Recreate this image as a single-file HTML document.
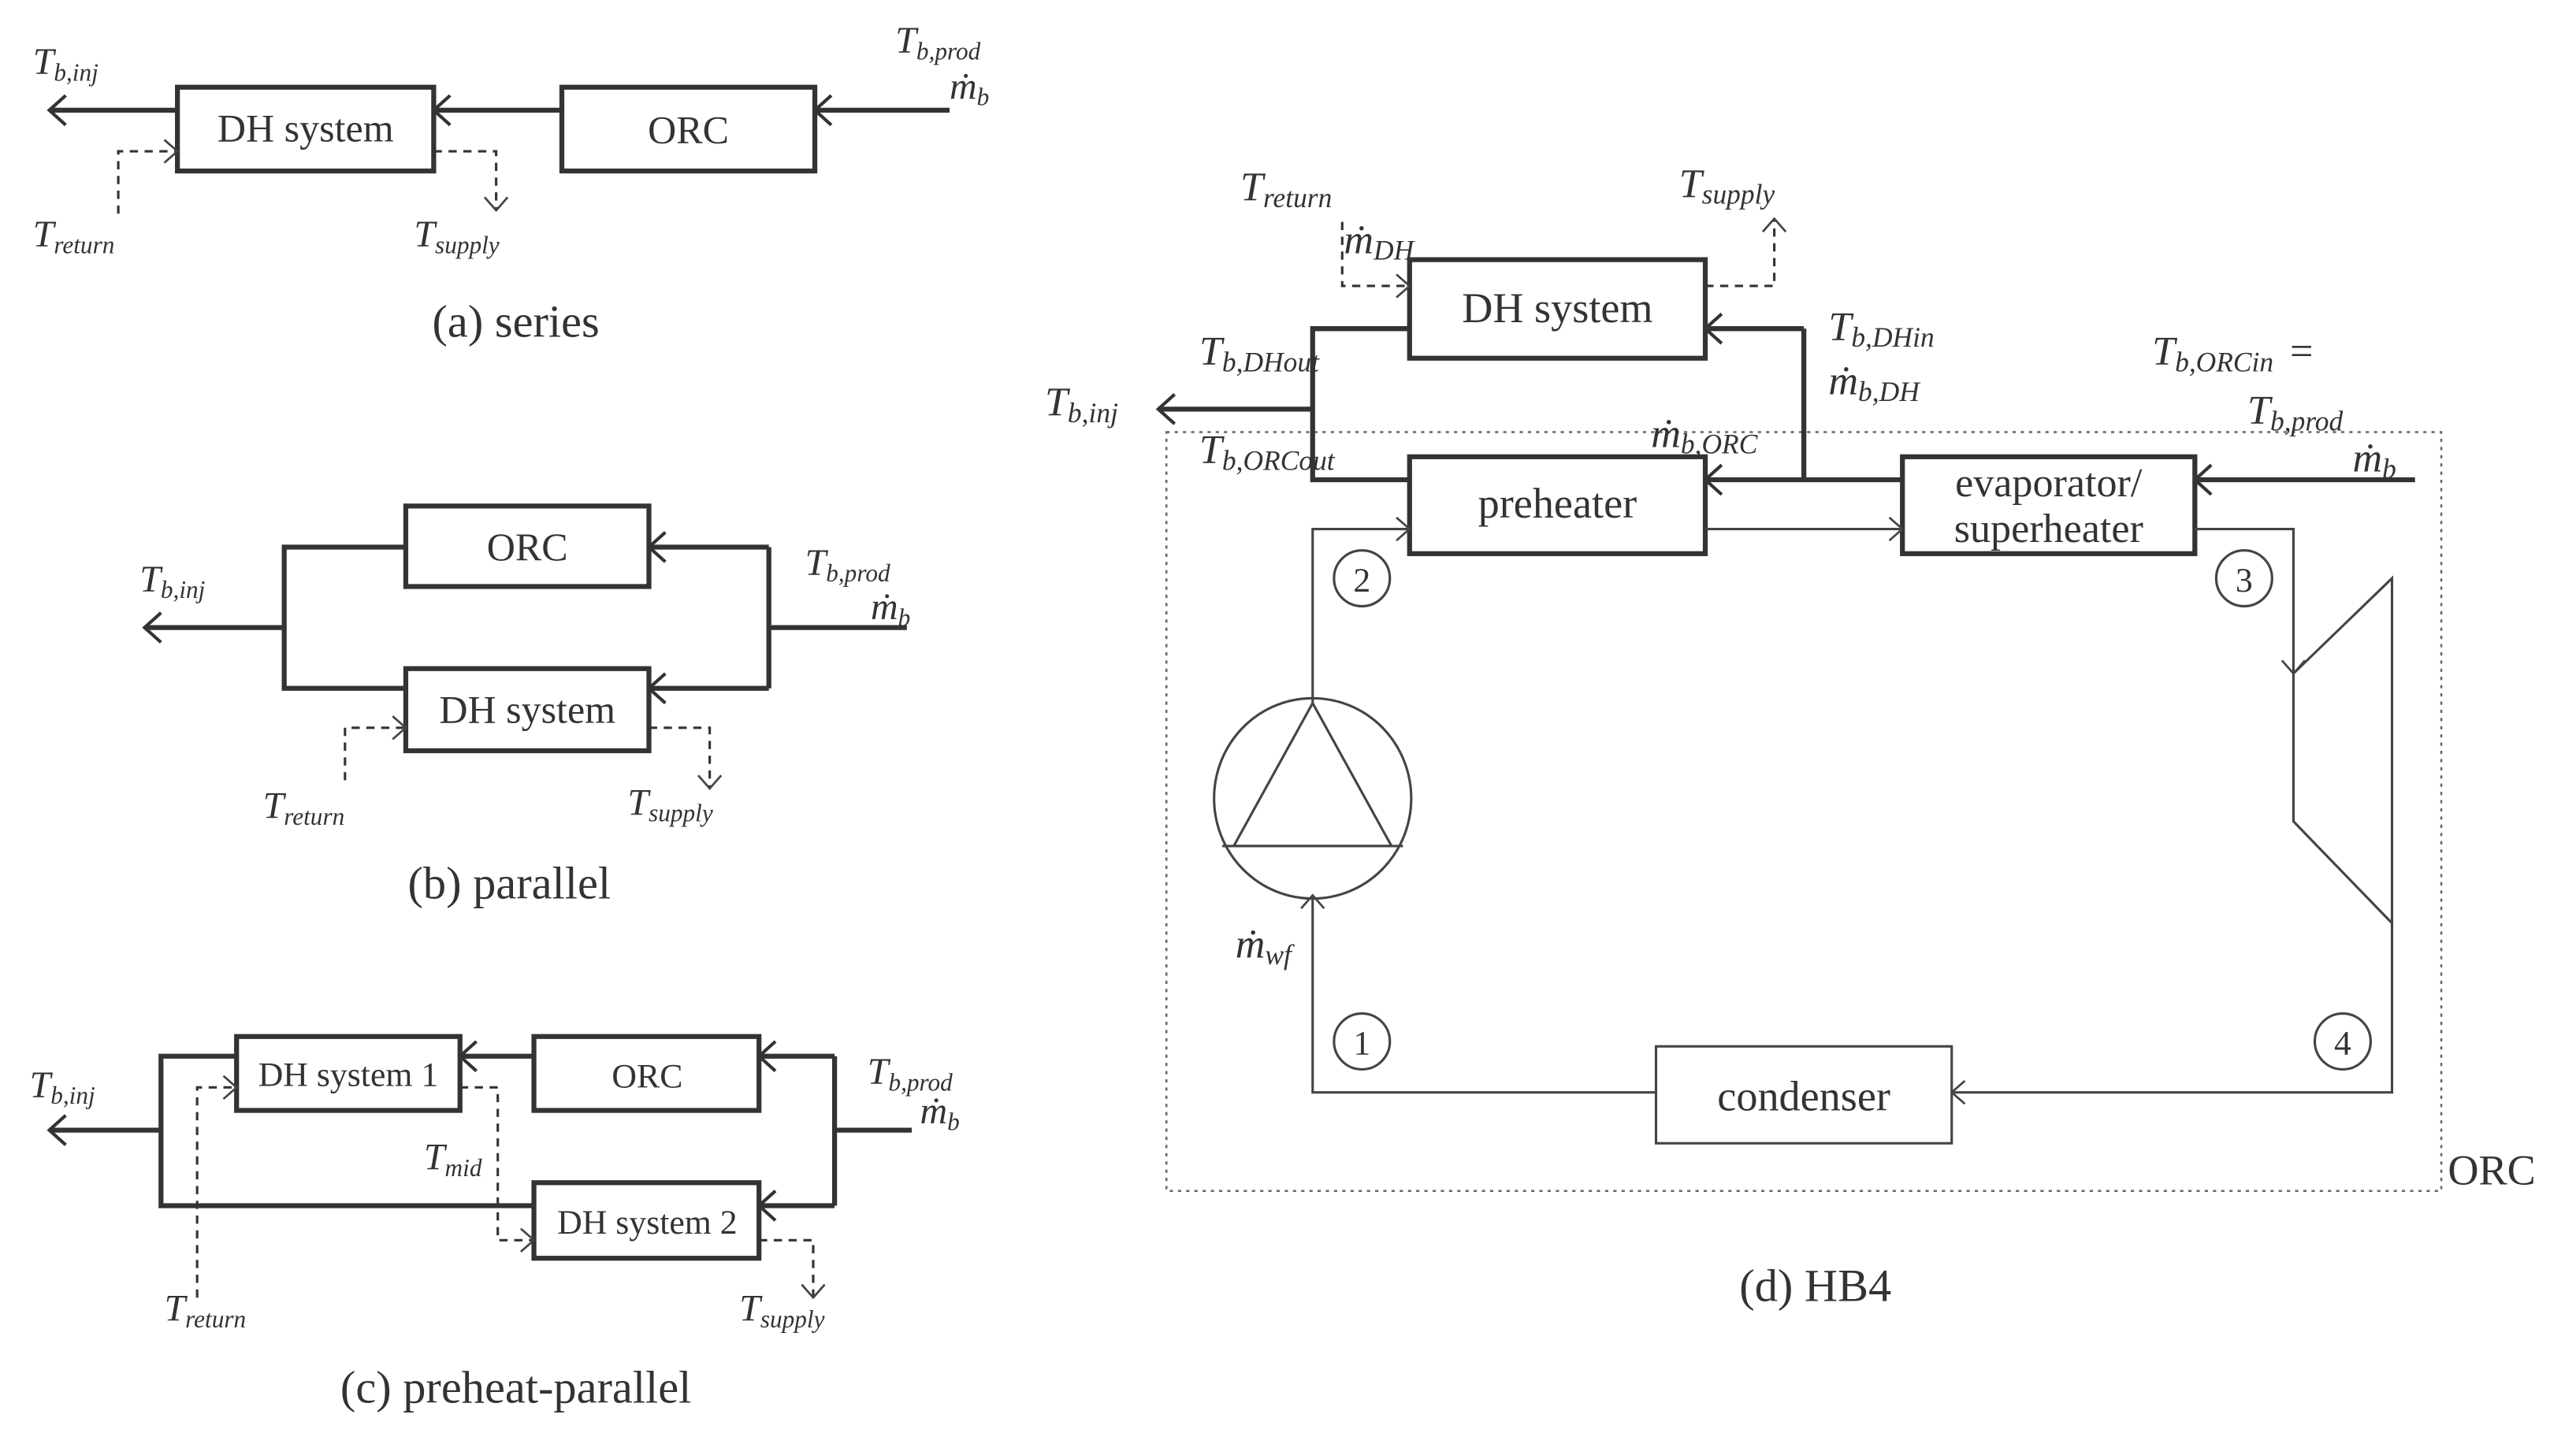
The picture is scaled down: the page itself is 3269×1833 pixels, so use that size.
<!DOCTYPE html>
<html><head><meta charset="utf-8"><style>
html,body{margin:0;padding:0;background:#fff;}
svg{display:block;}
text{font-family:"Liberation Serif",serif;fill:#333;}
.m{font-style:italic;font-size:23px;}
.s{font-size:15px;font-style:italic;}
.b{font-size:24px;}
.cap{font-size:28px;}
</style></head><body>
<svg width="3269" height="1833" viewBox="0 0 1568 879" xmlns="http://www.w3.org/2000/svg">
<defs>
<marker id="a" markerUnits="userSpaceOnUse" markerWidth="30" markerHeight="30" refX="15" refY="15" orient="auto" overflow="visible">
<path d="M5,6 L15,15 L5,24" fill="none" stroke="#333" stroke-width="2"/></marker>
<marker id="t" markerUnits="userSpaceOnUse" markerWidth="30" markerHeight="30" refX="15" refY="15" orient="auto" overflow="visible">
<path d="M7,8 L15,15 L7,22" fill="none" stroke="#444" stroke-width="1.3"/></marker>
</defs>
<g fill="none" stroke="#333">
<g stroke-width="3">
<rect x="108" y="53" width="156" height="51"/><rect x="342" y="53" width="154" height="51"/>
<line x1="578" y1="67" x2="496" y2="67" marker-end="url(#a)"/>
<line x1="342" y1="67" x2="264" y2="67" marker-end="url(#a)"/>
<line x1="108" y1="67" x2="30" y2="67" marker-end="url(#a)"/>
</g>
<g stroke-width="1.5" stroke-dasharray="5,4">
<polyline points="72,130 72,92 108,92" marker-end="url(#t)"/>
<polyline points="264,92 302,92 302,128" marker-end="url(#t)"/>
</g>
<g stroke-width="3">
<rect x="247" y="308" width="148" height="49"/><rect x="247" y="407" width="148" height="50"/>
<polyline points="247,333 173,333 173,419 247,419"/>
<polyline points="552,382 468,382"/>
<line x1="468" y1="333" x2="395" y2="333" marker-end="url(#a)"/>
<line x1="468" y1="419" x2="395" y2="419" marker-end="url(#a)"/>
<line x1="468" y1="333" x2="468" y2="419"/>
<line x1="173" y1="382" x2="88" y2="382" marker-end="url(#a)"/>
</g>
<g stroke-width="1.5" stroke-dasharray="5,4">
<polyline points="210,475 210,443 247,443" marker-end="url(#t)"/>
<polyline points="395,443 432,443 432,480" marker-end="url(#t)"/>
</g>
<g stroke-width="3">
<rect x="144" y="631" width="136" height="45"/><rect x="325" y="631" width="137" height="45"/><rect x="325" y="720" width="137" height="46"/>
<polyline points="144,643 98,643 98,734 325,734"/>
<line x1="325" y1="643" x2="280" y2="643" marker-end="url(#a)"/>
<line x1="508" y1="643" x2="462" y2="643" marker-end="url(#a)"/>
<line x1="508" y1="734" x2="462" y2="734" marker-end="url(#a)"/>
<line x1="508" y1="643" x2="508" y2="734"/>
<line x1="555" y1="688" x2="508" y2="688"/>
<line x1="98" y1="688" x2="30" y2="688" marker-end="url(#a)"/>
</g>
<g stroke-width="1.5" stroke-dasharray="5,4">
<polyline points="120,790 120,662 144,662" marker-end="url(#t)"/>
<polyline points="280,662 303,662 303,755 325,755" marker-end="url(#t)"/>
<polyline points="462,755 495,755 495,790" marker-end="url(#t)"/>
</g>
<rect x="710" y="263" width="776" height="462" stroke-width="1.2" stroke-dasharray="2,3" stroke="#666"/>
<g stroke-width="3">
<rect x="858" y="158" width="180" height="60"/><rect x="858" y="278" width="180" height="59"/><rect x="1158" y="278" width="178" height="59"/>
<polyline points="858,200 799,200 799,292 858,292"/>
<line x1="799" y1="249" x2="705" y2="249" marker-end="url(#a)"/>
<line x1="1470" y1="292" x2="1336" y2="292" marker-end="url(#a)"/>
<line x1="1158" y1="292" x2="1038" y2="292" marker-end="url(#a)"/>
<polyline points="1098,292 1098,200"/>
<line x1="1098" y1="200" x2="1038" y2="200" marker-end="url(#a)"/>
</g>
<g stroke-width="1.5" stroke="#444">
<rect x="1008" y="637" width="180" height="59"/>
<polyline points="799,428 799,322 858,322" marker-end="url(#t)"/>
<line x1="1038" y1="322" x2="1158" y2="322" marker-end="url(#t)"/>
<polyline points="1336,322 1396,322 1396,410" marker-end="url(#t)"/>
<polyline points="1396,410 1396,500 1456,562 1456,352 1396,410"/>
<polyline points="1456,562 1456,665 1188,665" marker-end="url(#t)"/>
<polyline points="1008,665 799,665 799,545" marker-end="url(#t)"/>
<ellipse cx="799" cy="486" rx="60" ry="61"/>
<polyline points="799,428 751,515 847,515 799,428"/>
<line x1="744" y1="515" x2="854" y2="515"/>
<circle cx="829" cy="352" r="17"/><circle cx="1366" cy="352" r="17"/><circle cx="829" cy="634" r="17"/><circle cx="1426" cy="634" r="17"/>
</g>
<g stroke-width="1.5" stroke-dasharray="5,4">
<polyline points="817,135 817,174 858,174" marker-end="url(#t)"/>
<polyline points="1038,174 1080,174 1080,133" marker-end="url(#t)"/>
</g>
</g>
<g>
<text class="b" x="186" y="86" text-anchor="middle">DH system</text>
<text class="b" x="419" y="87" text-anchor="middle">ORC</text>
<text class="cap" x="314" y="205" text-anchor="middle">(a) series</text>
<text class="b" x="321" y="341" text-anchor="middle">ORC</text>
<text class="b" x="321" y="440" text-anchor="middle">DH system</text>
<text class="cap" x="310" y="547" text-anchor="middle">(b) parallel</text>
<text x="212" y="661" text-anchor="middle" style="font-size:21px">DH system 1</text>
<text x="394" y="662" text-anchor="middle" style="font-size:21px">ORC</text>
<text x="394" y="751" text-anchor="middle" style="font-size:21px">DH system 2</text>
<text class="cap" x="314" y="854" text-anchor="middle">(c) preheat-parallel</text>
<text x="948" y="196" text-anchor="middle" style="font-size:26px">DH system</text>
<text x="948" y="315" text-anchor="middle" style="font-size:26px">preheater</text>
<text x="1247" y="302" text-anchor="middle" style="font-size:25px">evaporator/</text>
<text x="1247" y="330" text-anchor="middle" style="font-size:25px">superheater</text>
<text x="1098" y="676" text-anchor="middle" style="font-size:26px">condenser</text>
<text x="1490" y="721" style="font-size:26px">ORC</text>
<text class="cap" x="1105" y="792" text-anchor="middle">(d) HB4</text>
<text x="829" y="360" text-anchor="middle" style="font-size:21px">2</text>
<text x="1366" y="360" text-anchor="middle" style="font-size:21px">3</text>
<text x="829" y="642" text-anchor="middle" style="font-size:21px">1</text>
<text x="1426" y="642" text-anchor="middle" style="font-size:21px">4</text>
<text class="m" x="20" y="45">T<tspan class="s" dy="4">b,inj</tspan></text>
<text class="m" x="545" y="32">T<tspan class="s" dy="4">b,prod</tspan></text>
<text class="m" x="578" y="60">ṁ<tspan class="s" dy="4">b</tspan></text>
<text class="m" x="20" y="150">T<tspan class="s" dy="4">return</tspan></text>
<text class="m" x="252" y="150">T<tspan class="s" dy="4">supply</tspan></text>
<text class="m" x="85" y="360">T<tspan class="s" dy="4">b,inj</tspan></text>
<text class="m" x="490" y="350">T<tspan class="s" dy="4">b,prod</tspan></text>
<text class="m" x="530" y="377">ṁ<tspan class="s" dy="4">b</tspan></text>
<text class="m" x="160" y="498">T<tspan class="s" dy="4">return</tspan></text>
<text class="m" x="382" y="496">T<tspan class="s" dy="4">supply</tspan></text>
<text class="m" x="18" y="668">T<tspan class="s" dy="4">b,inj</tspan></text>
<text class="m" x="528" y="660">T<tspan class="s" dy="4">b,prod</tspan></text>
<text class="m" x="560" y="684">ṁ<tspan class="s" dy="4">b</tspan></text>
<text class="m" x="100" y="804">T<tspan class="s" dy="4">return</tspan></text>
<text class="m" x="450" y="804">T<tspan class="s" dy="4">supply</tspan></text>
<text class="m" x="258" y="712">T<tspan class="s" dy="4">mid</tspan></text>
<text class="m" x="755" y="122" style="font-size:25px">T<tspan class="s" dy="4" style="font-size:17px">return</tspan></text>
<text class="m" x="818" y="154" style="font-size:25px">ṁ<tspan class="s" dy="4" style="font-size:17px">DH</tspan></text>
<text class="m" x="1022" y="120" style="font-size:25px">T<tspan class="s" dy="4" style="font-size:17px">supply</tspan></text>
<text class="m" x="730" y="222" style="font-size:25px">T<tspan class="s" dy="4" style="font-size:17px">b,DHout</tspan></text>
<text class="m" x="636" y="253" style="font-size:25px">T<tspan class="s" dy="4" style="font-size:17px">b,inj</tspan></text>
<text class="m" x="730" y="282" style="font-size:25px">T<tspan class="s" dy="4" style="font-size:17px">b,ORCout</tspan></text>
<text class="m" x="1005" y="272" style="font-size:25px">ṁ<tspan class="s" dy="4" style="font-size:17px">b,ORC</tspan></text>
<text class="m" x="1113" y="207" style="font-size:25px">T<tspan class="s" dy="4" style="font-size:17px">b,DHin</tspan></text>
<text class="m" x="1113" y="240" style="font-size:25px">ṁ<tspan class="s" dy="4" style="font-size:17px">b,DH</tspan></text>
<text class="m" x="1310" y="222" style="font-size:25px">T<tspan class="s" dy="4" style="font-size:17px">b,ORCin</tspan><tspan dy="-4" dx="10" style="font-style:normal">=</tspan></text>
<text class="m" x="1368" y="258" style="font-size:25px">T<tspan class="s" dy="4" style="font-size:17px">b,prod</tspan></text>
<text class="m" x="1432" y="287" style="font-size:25px">ṁ<tspan class="s" dy="4" style="font-size:17px">b</tspan></text>
<text class="m" x="752" y="583" style="font-size:25px">ṁ<tspan class="s" dy="4" style="font-size:17px">wf</tspan></text>
</g>
</svg>
</body></html>
